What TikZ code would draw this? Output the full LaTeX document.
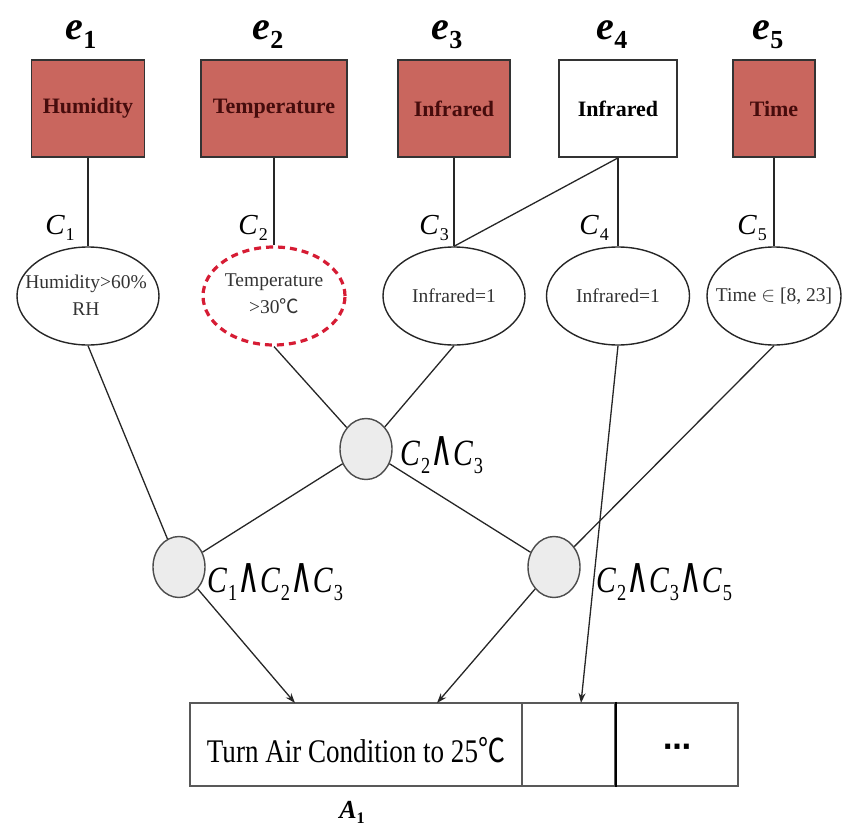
\documentclass[tikz,border=0pt]{standalone}
\usepackage{fontspec}
\setmainfont{Liberation Serif}
\newfontfamily\cjkfont{Noto Sans CJK SC}
\newfontfamily\djv{DejaVu Sans}
\usepackage{graphicx}
\usetikzlibrary{shapes.geometric,arrows.meta}
\definecolor{boxred}{RGB}{201,102,94}
\definecolor{boxtxt}{RGB}{70,12,12}
\definecolor{dashred}{RGB}{214,28,52}
\definecolor{circfill}{RGB}{236,236,236}
\newcommand\degC{{\cjkfont ℃}}
\newcommand\Csub[1]{\textit{C}\kern0.03em\raisebox{-0.22em}{\scalebox{0.62}{#1}}}
\newcommand\andop{\scalebox{1.05}[1.35]{\djv ∧}}
\newcommand\esub[1]{\textbf{\textit{e}}\raisebox{-0.22em}{\scalebox{0.65}{\bfseries\upshape #1}}}
\tikzset{
  sensor/.style={draw=black!80, line width=1.8pt, fill=boxred, minimum height=97pt, inner sep=0pt,
    font=\fontsize{22}{24}\selectfont\bfseries, text=boxtxt},
  condell/.style={ellipse, draw=black!85, line width=1.4pt, minimum height=98pt, inner sep=0pt},
  ctext/.style={font=\fontsize{19.5}{27}\selectfont, text=black!80, align=center},
  andnode/.style={ellipse, draw=black!70, line width=1.4pt, fill=circfill, minimum width=52pt,
    minimum height=61pt, inner sep=0pt},
  conn/.style={draw=black!85, line width=1.3pt},
  arr/.style={conn, -{Stealth[length=10pt,width=7pt]}},
  elabel/.style={font=\fontsize{40}{44}\selectfont, anchor=base, inner sep=0pt},
  clabel/.style={font=\fontsize{29}{32}\selectfont, anchor=base, inner sep=0pt},
  andlabel/.style={font=\fontsize{37}{40}\selectfont, anchor=base west, inner sep=0pt},
  cell/.style={draw=black!65, line width=2.2pt, minimum height=83pt, inner sep=0pt}
}
\begin{document}
\begin{tikzpicture}[x=1pt,y=-1pt]
\useasboundingbox (0,0) rectangle (842,829);
% e labels
\node[elabel] (l1) at (81,40) {\esub{1}};
\node[elabel] (l2) at (268,40) {\esub{2}};
\node[elabel] (l3) at (447,40) {\esub{3}};
\node[elabel] (l4) at (612,40) {\esub{4}};
\node[elabel] (l5) at (768,40) {\esub{5}};
% sensor boxes
\node[sensor, minimum width=113pt] (b1) at (88,108.5) {Humidity};
\node[sensor, minimum width=146pt] (b2) at (274,108.5) {Temperature};
\node[sensor, minimum width=112pt] (b3) at (454,108.5) {Infrared};
\node[sensor, minimum width=118pt, fill=white, text=black] (b4) at (618,108.5) {Infrared};
\node[sensor, minimum width=82pt] (b5) at (774,108.5) {Time};
% condition ellipses
\node[condell, minimum width=142pt] (E1) at (88,296) {};
\node[condell, minimum width=142pt, draw=dashred, line width=3.2pt, dash pattern=on 7pt off 5pt] (E2) at (274,296) {};
\node[condell, minimum width=142pt] (E3) at (454,296) {};
\node[condell, minimum width=143pt] (E4) at (618,296) {};
\node[condell, minimum width=134pt] (E5) at (774,296) {};
\node[ctext] (t1) at (86,295) {Humidity>60\%\\RH};
\node[ctext] (t2) at (274,294) {Temperature\\>30\degC};
\node[ctext] (t3) at (454,296) {Infrared=1};
\node[ctext] (t4) at (618,296) {Infrared=1};
\node[ctext] (t5) at (774,296) {Time $\in$ [8, 23]};
% C labels
\node[clabel] (k1) at (60,234) {\Csub{1}};
\node[clabel] (k2) at (253,234) {\Csub{2}};
\node[clabel] (k3) at (434,234) {\Csub{3}};
\node[clabel] (k4) at (594,234) {\Csub{4}};
\node[clabel] (k5) at (752,234) {\Csub{5}};
% and nodes
\node[andnode] (c23) at (366,449) {};
\node[andnode] (c123) at (179,567) {};
\node[andnode] (c235) at (554,567) {};
\node[andlabel] (g23) at (400,465) {\scalebox{0.8}[1]{\Csub{2}\andop\Csub{3}}};
\node[andlabel] (g123) at (207,592) {\scalebox{0.8}[1]{\Csub{1}\andop\Csub{2}\andop\Csub{3}}};
\node[andlabel] (g235) at (596,592) {\scalebox{0.8}[1]{\Csub{2}\andop\Csub{3}\andop\Csub{5}}};
% action box
\node[cell, minimum width=332pt] (cA) at (356,744.5) {};
\node[cell, minimum width=93pt] (cB) at (568.5,744.5) {};
\node[cell, minimum width=123pt] (cC) at (676.5,744.5) {};
\draw[black, line width=1.4pt] (cB.north east) -- (cB.south east);
\node[anchor=base, inner sep=0pt] (atext) at (356,762)
  {\scalebox{0.82}[1]{\fontsize{33}{36}\selectfont Turn Air Condition to 25\degC}};
\node[inner sep=0pt, font=\fontsize{28}{30}\selectfont\djv\bfseries] (dots) at (677,750) {⋯};
\node[anchor=base, inner sep=0pt, font=\fontsize{26}{30}\selectfont\bfseries] (A1) at (352,818)
  {\textit{A}\raisebox{-0.22em}{\scalebox{0.62}{1}}};
\coordinate (p1) at (295,703);
\coordinate (p2) at (437,703);
\coordinate (p3) at (581,703);
% connectors
\draw[conn] (b1) -- (E1);
\draw[conn] (b2) -- (E2);
\draw[conn] (b3) -- (E3);
\draw[conn] (b4) -- (E4);
\draw[conn] (b5) -- (E5);
\draw[conn] (b4.south) -- (E3.north);
\draw[conn] (E1.south) -- (c123);
\draw[conn] (E2.south) -- (c23);
\draw[conn] (E3.south) -- (c23);
\draw[conn] (c23) -- (c123);
\draw[conn] (c23) -- (c235);
\draw[conn] (E5.south) -- (c235);
\draw[arr] (E4.south) -- (p3);
\draw[arr] (c123) -- (p1);
\draw[arr] (c235) -- (p2);
\end{tikzpicture}
\end{document}
